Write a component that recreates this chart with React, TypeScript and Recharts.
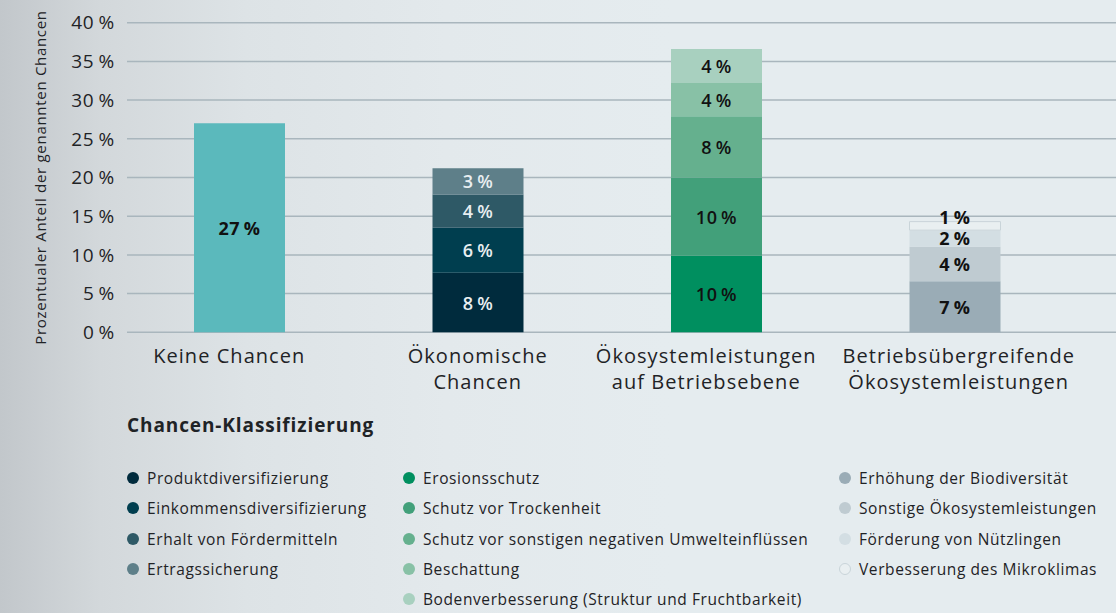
import React from "react";
import { BarChart, Bar, XAxis, YAxis, CartesianGrid, LabelList, Legend, Label } from "recharts";

// ---- data ----
const categories = [
  "Keine Chancen",
  "Ökonomische Chancen",
  "Ökosystemleistungen auf Betriebsebene",
  "Betriebsübergreifende Ökosystemleistungen",
];
const categoryTickLines = [
  ["Keine Chancen"],
  ["Ökonomische", "Chancen"],
  ["Ökosystemleistungen", "auf Betriebsebene"],
  ["Betriebsübergreifende", "Ökosystemleistungen"],
];
const yTicks = [0, 5, 10, 15, 20, 25, 30, 35, 40];

const keineNames = ["Keine Chancen"];
const keineValues = [27];

const oekonomischNames = [
  "Produktdiversifizierung",
  "Einkommensdiversifizierung",
  "Erhalt von Fördermitteln",
  "Ertragssicherung",
];
const oekonomischValues = [7.7, 5.8, 4.3, 3.4];

const betriebNames = [
  "Erosionsschutz",
  "Schutz vor Trockenheit",
  "Schutz vor sonstigen negativen Umwelteinflüssen",
  "Beschattung",
  "Bodenverbesserung (Struktur und Fruchtbarkeit)",
];
const betriebValues = [9.9, 10.1, 7.9, 4.3, 4.4];

const uebergreifendNames = [
  "Erhöhung der Biodiversität",
  "Sonstige Ökosystemleistungen",
  "Förderung von Nützlingen",
  "Verbesserung des Mikroklimas",
];
const uebergreifendValues = [6.6, 4.45, 2.15, 1.1];

// ---- styles ----
const keineColors = ["#5bb9bc"];
const oekonomischColors = ["#002b3d", "#003e4f", "#2e5966", "#5e7f89"];
const betriebColors = ["#008f5f", "#42a07a", "#65b08e", "#88c1a6", "#a8d0bf"];
const uebergreifendColors = ["#9aacb6", "#bfcbd1", "#d3dee3", "#e9eff1"];
const tickDx = [-10, 0, -10, 4];

const FONT = "'Open Sans', sans-serif";
const TEXT = "#1f2326";

type Series = {
  key: string;
  name: string;
  value: number;
  cat: number;
  color: string;
  labelColor: string;
  labelWeight: number;
  stroke?: string;
};

const groups = [
  { cat: 0, names: keineNames, values: keineValues, colors: keineColors, labelColor: "#111", labelWeight: 700 },
  { cat: 1, names: oekonomischNames, values: oekonomischValues, colors: oekonomischColors, labelColor: "#e8eef1", labelWeight: 600 },
  { cat: 2, names: betriebNames, values: betriebValues, colors: betriebColors, labelColor: "#111", labelWeight: 600 },
  { cat: 3, names: uebergreifendNames, values: uebergreifendValues, colors: uebergreifendColors, labelColor: "#111", labelWeight: 700 },
];

const series: Series[] = [];
groups.forEach((g) => {
  g.names.forEach((n, i) => {
    series.push({
      key: `s${series.length}`,
      name: n,
      value: g.values[i],
      cat: g.cat,
      color: g.colors[i],
      labelColor: g.labelColor,
      labelWeight: g.labelWeight,
      stroke: g.cat === 3 && i === g.names.length - 1 ? "#c9d4d9" : undefined,
    });
  });
});

const data = categories.map((c, ci) => {
  const row: Record<string, any> = { category: c, idx: ci };
  series.forEach((s) => {
    row[s.key] = s.cat === ci ? s.value : 0;
  });
  return row;
});

const makeLabel = (s: Series) => (props: any) => {
  const { x, y, width, height, value } = props;
  if (!value) return null;
  const cx = Number(x) + Number(width) / 2;
  let cy = Number(y) + Number(height) / 2;
  if (Math.abs(Number(height)) < 12) cy = Number(y) - 5;
  return (
    <text
      x={cx}
      y={cy}
      textAnchor="middle"
      dominantBaseline="central"
      fill={s.labelColor}
      fontFamily={FONT}
      fontSize={18}
      letterSpacing={0.6}
      fontWeight={s.labelWeight}
    >
      {`${Math.round(value)}\u2009%`}
    </text>
  );
};

const XTick = (props: any) => {
  const { x, y, payload } = props;
  const idx = categories.indexOf(payload.value);
  const lines = categoryTickLines[idx] || [payload.value];
  const dx = tickDx[idx] || 0;
  return (
    <g>
      {lines.map((l, i) => (
        <text
          key={i}
          x={x + dx}
          y={y + 31 + i * 26}
          textAnchor="middle"
          fill={TEXT}
          fontFamily={FONT}
          fontSize={20}
          letterSpacing={1.05}
        >
          {l}
        </text>
      ))}
    </g>
  );
};

const legendColumns = [
  series.filter((s) => s.cat === 1),
  series.filter((s) => s.cat === 2),
  series.filter((s) => s.cat === 3),
];
const legendColX = [127, 403, 839];

const LegendContent = () => (
  <div style={{ position: "relative", width: 1116, height: 208, fontFamily: FONT, color: TEXT }}>
    <div
      style={{
        position: "absolute",
        left: 127,
        top: 7,
        fontSize: 19,
        letterSpacing: 0.9,
        fontWeight: 700,
        whiteSpace: "nowrap",
      }}
    >
      Chancen-Klassifizierung
    </div>
    {legendColumns.map((col, ci) =>
      col.map((s, ri) => (
        <div
          key={s.key}
          style={{
            position: "absolute",
            left: legendColX[ci],
            top: 63 + ri * 30.3,
            height: 20,
            display: "flex",
            alignItems: "center",
            whiteSpace: "nowrap",
            fontSize: 15.5,
            letterSpacing: 0.6,
          }}
        >
          <span
            style={{
              display: "inline-block",
              width: 12,
              height: 12,
              borderRadius: 6,
              background: s.color,
              boxSizing: "border-box",
              border: s.stroke ? `1px solid ${s.stroke}` : "none",
              marginRight: 8,
              flexShrink: 0,
            }}
          />
          {s.name}
        </div>
      ))
    )}
  </div>
);

export default function App() {
  return (
    <div
      style={{
        position: "absolute",
        left: 0,
        top: 0,
        width: 1116,
        height: 613,
        overflow: "hidden",
        background:
          "linear-gradient(90deg, #c2c7cb 0%, #d3d8db 9%, #dde3e6 22%, #e3e9ec 40%, #e5ecef 60%, #e5ecef 100%)",
      }}
    >
      <BarChart
        width={1116}
        height={613}
        data={data}
        margin={{ top: 22.7, right: 0, bottom: 210.7, left: 0 }}
        barSize={91}
      >
        <CartesianGrid vertical={false} stroke="#a9b6bd" strokeWidth={1.5} />
        <XAxis
          dataKey="category"
          axisLine={false}
          tickLine={false}
          tickSize={0}
          tickMargin={0}
          interval={0}
          height={70}
          padding={{ left: -7, right: 42 }}
          tick={<XTick />}
        />
        <YAxis
          width={127}
          domain={[0, 40]}
          ticks={yTicks}
          allowDecimals={false}
          axisLine={false}
          tickLine={false}
          tickSize={0}
          tickMargin={12}
          tickFormatter={(v: number) => `${v}\u2009%`}
          tick={{ fill: TEXT, fontFamily: FONT, fontSize: 19, letterSpacing: 0.8 }}
        >
          <Label
            content={(p: any) => {
              const vb = p.viewBox || {};
              const cy = (vb.y ?? 22.7) + (vb.height ?? 309.6) / 2;
              return (
                <text
                  x={40}
                  y={cy}
                  transform={`rotate(-90, 40, ${cy})`}
                  textAnchor="middle"
                  dominantBaseline="central"
                  fill={TEXT}
                  fontFamily={FONT}
                  fontSize={15}
                  letterSpacing={0.7}
                >
                  Prozentualer Anteil der genannten Chancen
                </text>
              );
            }}
          />
        </YAxis>
        <Legend
          layout="horizontal"
          verticalAlign="middle"
          align="center"
          wrapperStyle={{ top: 405, left: 0, width: 1116, height: 208 }}
          content={<LegendContent />}
        />
        {series.map((s) => (
          <Bar
            key={s.key}
            dataKey={s.key}
            name={s.name}
            stackId="a"
            fill={s.color}
            stroke={s.stroke}
            strokeWidth={s.stroke ? 1 : 0}
            isAnimationActive={false}
          >
            <LabelList dataKey={s.key} content={makeLabel(s)} />
          </Bar>
        ))}
      </BarChart>
    </div>
  );
}
